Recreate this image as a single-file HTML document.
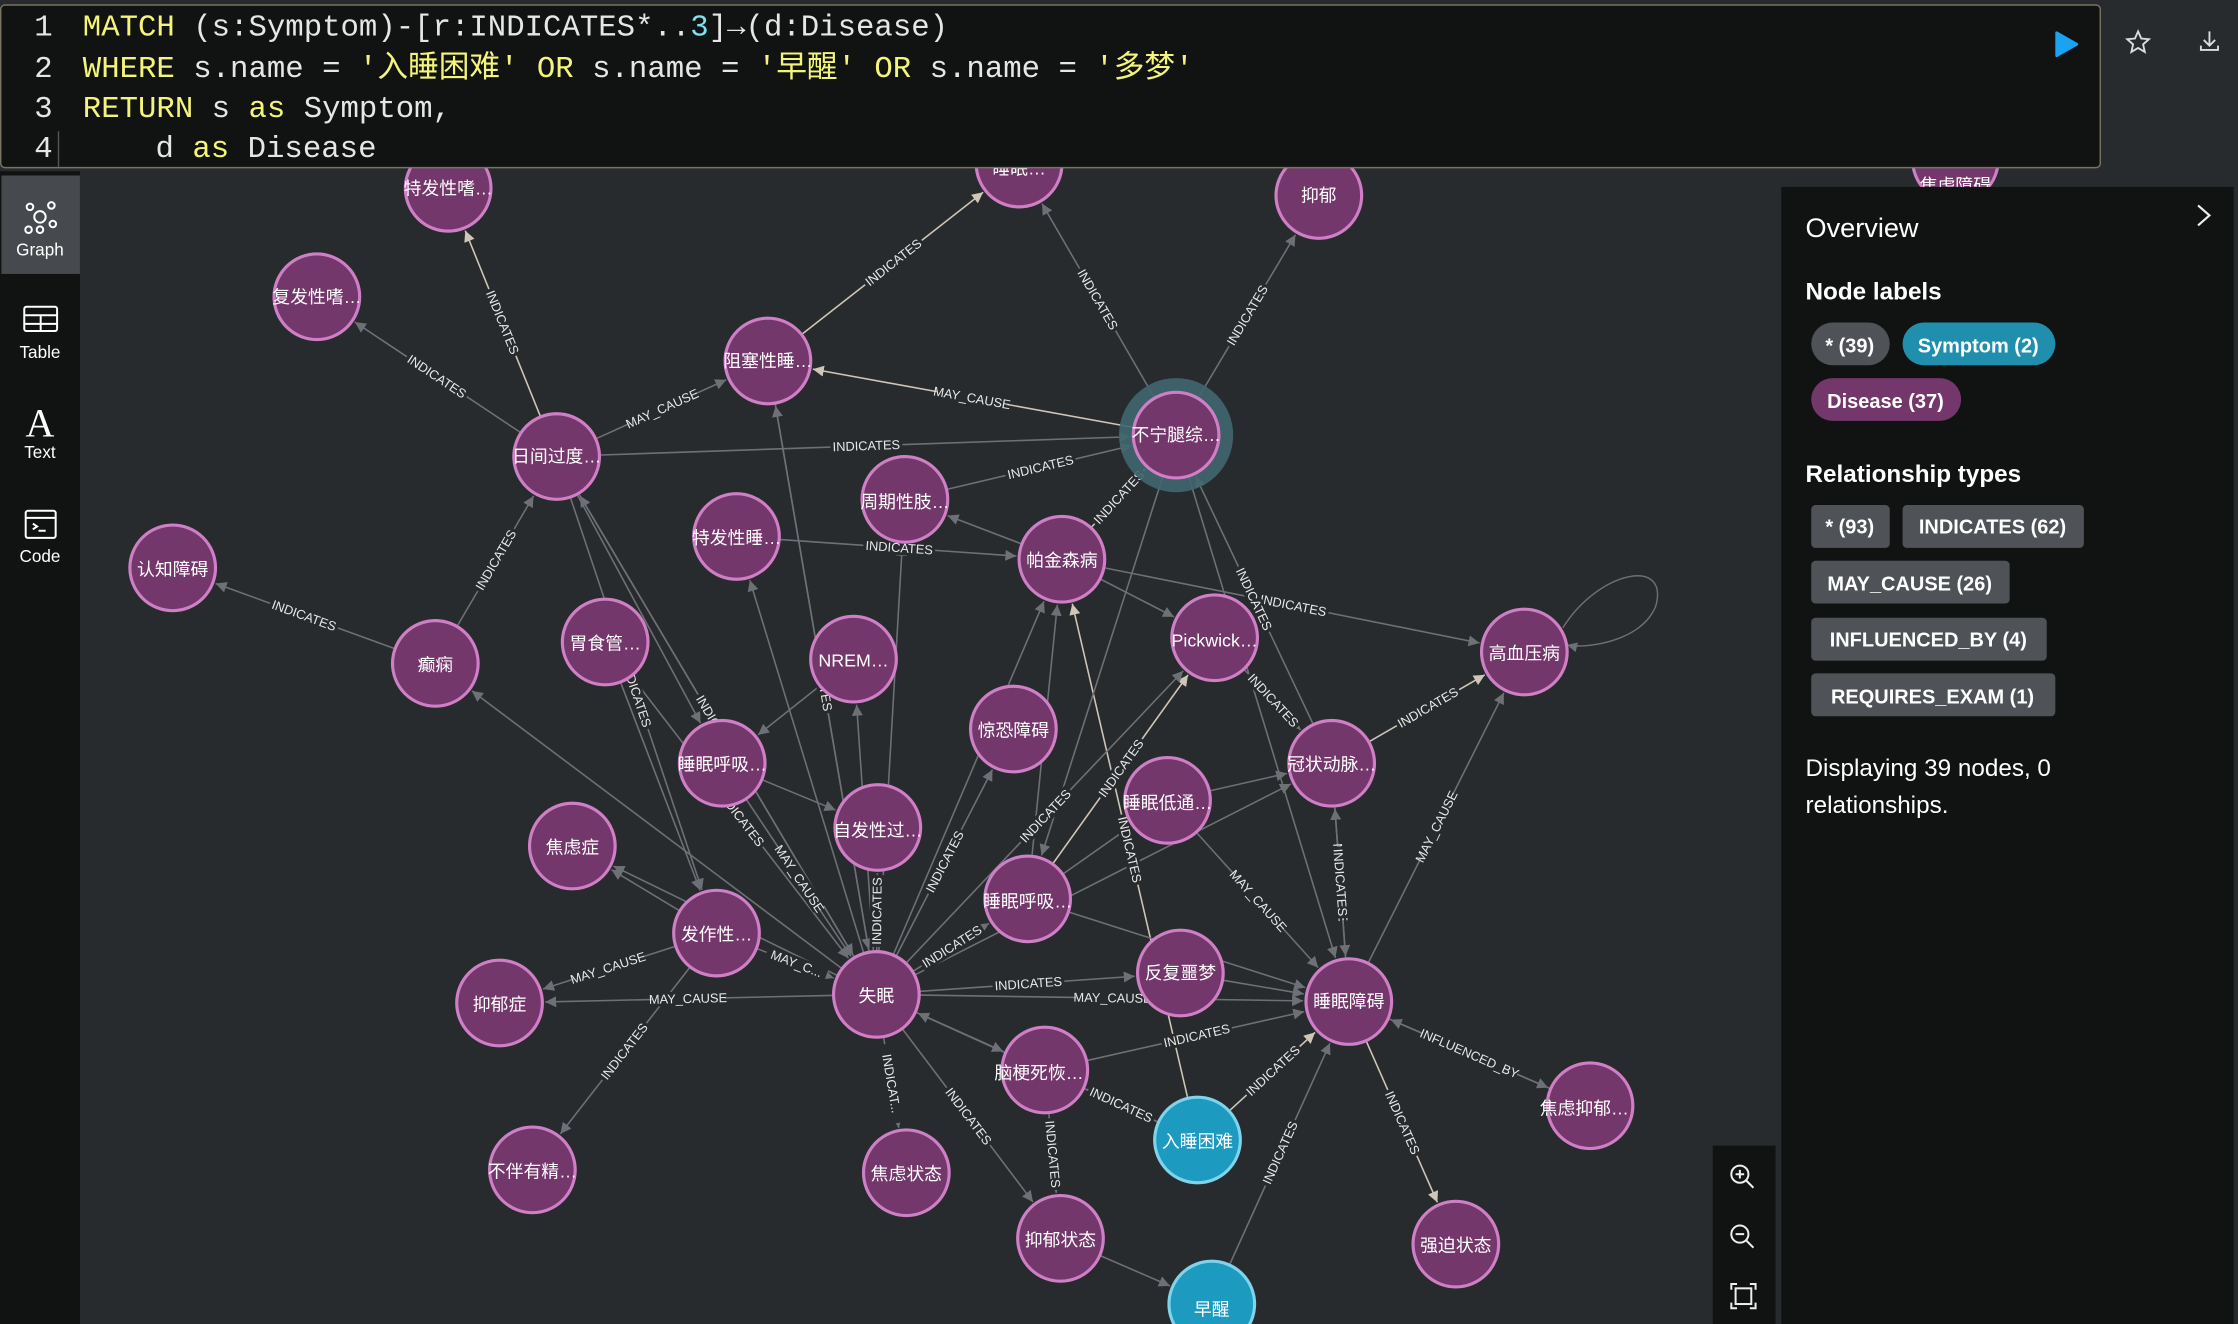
<!DOCTYPE html>
<html><head><meta charset="utf-8"><style>
html,body{margin:0;padding:0;background:#282b2d;overflow:hidden}
svg{display:block}
.n circle{fill:#74376b;stroke:#cf7fc6;stroke-width:2.2}
.n.s circle{fill:#1c9ac0;stroke:#7fd3ea}
.n text{fill:#fff;font-family:"Liberation Sans","Noto Sans CJK SC",sans-serif;font-size:12.5px;text-anchor:middle;dominant-baseline:central}
.el{fill:#e8e8e8;font-family:"Liberation Sans",sans-serif;font-size:9px;text-anchor:middle}
.code{font-family:"Liberation Mono","Noto Sans CJK SC",monospace;font-size:21.5px}
.ui{font-family:"Liberation Sans","Noto Sans CJK SC",sans-serif}
</style></head><body>
<svg id="s" width="2238" height="1324" viewBox="0 0 1568 928" preserveAspectRatio="none" xmlns="http://www.w3.org/2000/svg">
<defs>
<marker id="a" viewBox="0 0 10 10" refX="10" refY="5" markerWidth="7" markerHeight="7" orient="auto"><path d="M0,0L10,5L0,10z" fill="#6d7175"/></marker>
<marker id="b" viewBox="0 0 10 10" refX="10" refY="5" markerWidth="7" markerHeight="7" orient="auto"><path d="M0,0L10,5L0,10z" fill="#cfc6b8"/></marker>
</defs>
<rect width="1568" height="928" fill="#282b2d"/>
<g id="edges"></g>
<g id="labels"></g>
<g id="nodes">
<g class="n"><circle cx="314" cy="132" r="30"/><text x="314" y="132">特发性嗜…</text></g>
<g class="n"><circle cx="222" cy="208" r="30"/><text x="222" y="208">复发性嗜…</text></g>
<g class="n"><circle cx="538" cy="253" r="30"/><text x="538" y="253">阻塞性睡…</text></g>
<g class="n"><circle cx="714" cy="115" r="30"/><text x="714" y="118">睡眠…</text></g>
<g class="n"><circle cx="924" cy="137" r="30"/><text x="924" y="137">抑郁</text></g>
<g class="n"><circle cx="1370" cy="112" r="30"/><text x="1370" y="130">焦虑障碍</text></g>
<circle cx="824" cy="305" r="40" fill="#3f6670" opacity="0.9"/>
<g class="n"><circle cx="824" cy="305" r="30"/><text x="824" y="305">不宁腿综…</text></g>
<g class="n"><circle cx="390" cy="320" r="30"/><text x="390" y="320">日间过度…</text></g>
<g class="n"><circle cx="634" cy="350" r="30"/><text x="634" y="352">周期性肢…</text></g>
<g class="n"><circle cx="516" cy="376" r="30"/><text x="516" y="377">特发性睡…</text></g>
<g class="n"><circle cx="744" cy="392" r="30"/><text x="744" y="393">帕金森病</text></g>
<g class="n"><circle cx="121" cy="398" r="30"/><text x="121" y="399">认知障碍</text></g>
<g class="n"><circle cx="305" cy="465" r="30"/><text x="305" y="466">癫痫</text></g>
<g class="n"><circle cx="424" cy="450" r="30"/><text x="424" y="451">胃食管…</text></g>
<g class="n"><circle cx="598" cy="462" r="30"/><text x="598" y="463">NREM…</text></g>
<g class="n"><circle cx="851" cy="447" r="30"/><text x="851" y="449">Pickwick…</text></g>
<g class="n"><circle cx="1068" cy="457" r="30"/><text x="1068" y="458">高血压病</text></g>
<g class="n"><circle cx="710" cy="511" r="30"/><text x="710" y="512">惊恐障碍</text></g>
<g class="n"><circle cx="506" cy="535" r="30"/><text x="506" y="536">睡眠呼吸…</text></g>
<g class="n"><circle cx="933" cy="535" r="30"/><text x="933" y="536">冠状动脉…</text></g>
<g class="n"><circle cx="818" cy="561" r="30"/><text x="818" y="563">睡眠低通…</text></g>
<g class="n"><circle cx="615" cy="580" r="30"/><text x="615" y="582">自发性过…</text></g>
<g class="n"><circle cx="401" cy="593" r="30"/><text x="401" y="594">焦虑症</text></g>
<g class="n"><circle cx="720" cy="630" r="30"/><text x="720" y="632">睡眠呼吸…</text></g>
<g class="n"><circle cx="502" cy="654" r="30"/><text x="502" y="655">发作性…</text></g>
<g class="n"><circle cx="827" cy="682" r="30"/><text x="827" y="682">反复噩梦</text></g>
<g class="n"><circle cx="614" cy="697" r="30"/><text x="614" y="698">失眠</text></g>
<g class="n"><circle cx="945" cy="702" r="30"/><text x="945" y="702">睡眠障碍</text></g>
<g class="n"><circle cx="350" cy="703" r="30"/><text x="350" y="704">抑郁症</text></g>
<g class="n"><circle cx="732" cy="750" r="30"/><text x="728" y="752">脑梗死恢…</text></g>
<g class="n s"><circle cx="839" cy="799" r="30"/><text x="839" y="800">入睡困难</text></g>
<g class="n"><circle cx="1114" cy="775" r="30"/><text x="1110" y="777">焦虑抑郁…</text></g>
<g class="n"><circle cx="373" cy="820" r="30"/><text x="373" y="821">不伴有精…</text></g>
<g class="n"><circle cx="635" cy="822" r="30"/><text x="635" y="823">焦虑状态</text></g>
<g class="n"><circle cx="743" cy="868" r="30"/><text x="743" y="869">抑郁状态</text></g>
<g class="n"><circle cx="1020" cy="872" r="30"/><text x="1020" y="873">强迫状态</text></g>
<g class="n s"><circle cx="849" cy="914" r="30"/><text x="849" y="918">早醒</text></g>
</g>
<!-- editor -->
<rect x="0" y="0" width="1568" height="3.5" fill="#282b2d"/>
<rect x="0.5" y="3.5" width="1471" height="114" rx="3" fill="#111313" stroke="#7a7262" stroke-width="1"/>
<g class="code" fill="#e6e6e6">
<text x="24" y="25">1</text><text x="24" y="54">2</text><text x="24" y="82">3</text><text x="24" y="110">4</text>
<text x="58" y="25"><tspan fill="#f4f47a">MATCH</tspan> (s:Symptom)-[r:INDICATES*..<tspan fill="#7ee0f0">3</tspan>]→(d:Disease)</text>
<text x="58" y="54"><tspan fill="#f4f47a">WHERE</tspan> s.name = <tspan fill="#f4f47a">'入睡困难'</tspan> <tspan fill="#f4f47a">OR</tspan> s.name = <tspan fill="#f4f47a">'早醒'</tspan> <tspan fill="#f4f47a">OR</tspan> s.name = <tspan fill="#f4f47a">'多梦'</tspan></text>
<text x="58" y="82"><tspan fill="#f4f47a">RETURN</tspan> s <tspan fill="#f4f47a">as</tspan> Symptom,</text>
<text x="109" y="110">d <tspan fill="#f4f47a">as</tspan> Disease</text>
</g>
<line x1="41" y1="92" x2="41" y2="117" stroke="#555"/>
<path d="M1441,23 L1455,31 L1441,39 z" fill="#1aa3f2" stroke="#1aa3f2" stroke-width="2" stroke-linejoin="round"/>
<path d="M1498,22 l2.2,5 5.4,.5 -4.1,3.6 1.2,5.3 -4.7,-2.8 -4.7,2.8 1.2,-5.3 -4.1,-3.6 5.4,-.5z" fill="none" stroke="#ddd" stroke-width="1.3"/>
<path d="M1548,22 v10 M1544,28 l4,4 4,-4 M1542,32 v3 h12 v-3" fill="none" stroke="#ddd" stroke-width="1.3"/>
<!-- sidebar -->
<rect x="0" y="120" width="56" height="808" fill="#111313"/>
<rect x="1" y="123" width="55" height="69" fill="#464a4e"/>
<g fill="none" stroke="#fff" stroke-width="1.4">
<circle cx="28" cy="152" r="4"/><circle cx="21" cy="145" r="2.3"/><circle cx="36" cy="144" r="2.3"/><circle cx="37" cy="157" r="2.3"/><circle cx="20" cy="161" r="2.3"/><circle cx="28" cy="161" r="2.3"/>
<rect x="17" y="215" width="23" height="17" rx="1.5"/><line x1="17" y1="221" x2="40" y2="221"/><line x1="17" y1="227" x2="40" y2="227"/><line x1="28.5" y1="221" x2="28.5" y2="232"/>
<rect x="18" y="358" width="21" height="19" rx="1.5"/><line x1="18" y1="363" x2="39" y2="363"/><path d="M23,367 l3,2 -3,2 M27,372 h5"/>
</g>
<text x="28" y="306" fill="#fff" font-family="Liberation Serif,serif" font-size="28" text-anchor="middle">A</text>
<g class="ui" fill="#fff" font-size="12" text-anchor="middle">
<text x="28" y="179">Graph</text><text x="28" y="251">Table</text><text x="28" y="321">Text</text><text x="28" y="394">Code</text>
</g>
<!-- zoom controls -->
<rect x="1200" y="803" width="44" height="125" fill="#111313"/>
<g fill="none" stroke="#eee" stroke-width="1.4">
<circle cx="1219" cy="823" r="6"/><path d="M1223.5,827.5 l5,5 M1216,823 h6 M1219,820 v6"/>
<circle cx="1219" cy="865" r="6"/><path d="M1223.5,869.5 l5,5 M1216,865 h6"/>
<rect x="1216" y="903" width="11" height="11"/><path d="M1213,904 v-4 h4 M1226,900 h4 v4 M1230,913 v4 h-4 M1217,917 h-4 v-4"/>
</g>
<!-- right panel -->
<rect x="1248" y="131" width="317" height="797" fill="#111313"/>
<path d="M1540,144 l8,7 -8,7" fill="none" stroke="#eee" stroke-width="1.5"/>
<g class="ui">
<text x="1265" y="166" fill="#fff" font-size="19">Overview</text>
<text x="1265" y="210" fill="#fff" font-size="17" font-weight="bold">Node labels</text>
<rect x="1269" y="226" width="55" height="30" rx="15" fill="#4f5357"/><text x="1296" y="247" fill="#fff" font-size="14" font-weight="bold" text-anchor="middle">* (39)</text>
<rect x="1333" y="226" width="107" height="30" rx="15" fill="#1f8fad"/><text x="1386" y="247" fill="#fff" font-size="14" font-weight="bold" text-anchor="middle">Symptom (2)</text>
<rect x="1269" y="265" width="105" height="30" rx="15" fill="#74376b"/><text x="1321" y="286" fill="#fff" font-size="14" font-weight="bold" text-anchor="middle">Disease (37)</text>
<text x="1265" y="338" fill="#fff" font-size="17" font-weight="bold">Relationship types</text>
<rect x="1269" y="354" width="55" height="30" rx="3" fill="#4f5357"/><text x="1296" y="374" fill="#fff" font-size="14" font-weight="bold" text-anchor="middle">* (93)</text>
<rect x="1333" y="354" width="127" height="30" rx="3" fill="#4f5357"/><text x="1396" y="374" fill="#fff" font-size="14" font-weight="bold" text-anchor="middle">INDICATES (62)</text>
<rect x="1269" y="393" width="139" height="30" rx="3" fill="#4f5357"/><text x="1338" y="414" fill="#fff" font-size="14" font-weight="bold" text-anchor="middle">MAY_CAUSE (26)</text>
<rect x="1269" y="433" width="165" height="30" rx="3" fill="#4f5357"/><text x="1351" y="453" fill="#fff" font-size="14" font-weight="bold" text-anchor="middle">INFLUENCED_BY (4)</text>
<rect x="1269" y="472" width="171" height="30" rx="3" fill="#4f5357"/><text x="1354" y="493" fill="#fff" font-size="14" font-weight="bold" text-anchor="middle">REQUIRES_EXAM (1)</text>
<text x="1265" y="544" fill="#fff" font-size="17">Displaying 39 nodes, 0</text>
<text x="1265" y="570" fill="#fff" font-size="17">relationships.</text>
</g>
</svg>
<script>
var P={tf:[314,132],ff:[222,208],zs:[538,253],tp:[714,115],yy:[924,137],bn:[824,305],rj:[390,320],zq:[634,350],ts:[516,376],pj:[744,392],rz:[121,398],dx:[305,465],wg:[424,450],nr:[598,462],pk:[851,447],gx:[1068,457],jk:[710,511],h1:[506,535],gz:[933,535],dt:[818,561],zf:[615,580],jl:[401,593],h2:[720,630],fz:[502,654],fm:[827,682],sm:[614,697],sz:[945,702],yz:[350,703],ng:[732,750],rs:[839,799],jy:[1114,775],bb:[373,820],js:[635,822],ys:[743,868],qp:[1020,872],zx:[849,914]};
var E=[
['rj','tf','b','INDICATES'],['rj','ff',0,'INDICATES'],['rj','zs',0,'MAY_CAUSE'],['zs','tp','b','INDICATES'],['bn','zs','b','MAY_CAUSE'],['bn','tp',0,'INDICATES'],['bn','yy',0,'INDICATES'],
['pj','bn','b','INDICATES'],['zq','bn',0,'INDICATES'],['rj','bn',0,'INDICATES'],['ts','pj',0,'INDICATES'],['pj','zq',0,''],['dx','rz',0,'INDICATES'],['dx','rj',0,'INDICATES'],
['pj','gx',0,'INDICATES'],['pj','pk',0,''],['gz','gx','b','INDICATES'],['sz','gx',0,'MAY_CAUSE'],['sz','gz',0,'MAY_CAUSE'],['gz','sz',0,'INDICATES'],['sz','jy',0,'INDICATES'],['sz','qp','b','INDICATES'],
['rs','sz','b','INDICATES'],['rs','sm',0,''],['rs','pj','b','INDICATES'],['zx','sz',0,'INDICATES'],['ys','zx',0,''],['h2','pk','b','INDICATES'],['dt','gz',0,''],['dt','sz',0,'MAY_CAUSE'],
['fz','yz',0,'MAY_CAUSE'],['fz','jl',0,''],['fm','sz',0,''],['bn','sz',0,''],['gz','bn',0,'INDICATES'],['h2','pj',0,''],['pk','gz',0,'INDICATES'],
['sm','zs',0,''],['sm','rj',0,''],['sm','ts',0,''],['sm','zq',0,''],['sm','nr','a',''],['sm','pj',0,''],['wg','sm',0,'INDICATES'],['h1','sm',0,'MAY_CAUSE'],['sm','zf',0,'INDICATES'],['sm','jk',0,'INDICATES'],
['sm','h2',0,'INDICATES'],['fz','sm',0,'MAY_C...'],['sm','fm',0,'INDICATES'],['sm','sz',0,'MAY_CAUSE'],['sm','yz',0,'MAY_CAUSE'],['sm','js',0,'INDICAT...'],['sm','ys',0,'INDICATES'],['sm','ng',0,''],
['fz','bb',0,'INDICATES'],['sm','jl',0,'INDICATES'],['sm','pk',0,'INDICATES'],['sm','dx',0,''],['rs','ng',0,'INDICATES'],['ng','sz',0,'INDICATES'],['h2','dt',0,''],['rj','sm',0,'INDICATES'],['wg','fz',0,''],['rj','h1',0,''],
['ng','ys',0,'INDICATES'],['h1','zf',0,''],['nr','h1',0,''],['sm','gz',0,''],['rj','fz',0,'INDICATES'],['zs','sm',0,'INDICATES'],['bn','h2',0,''],['h2','sz',0,'INDICATES'],['jy','sz',0,'INFLUENCED_BY']
];
var g=document.getElementById('edges'),L=document.getElementById('labels'),ns='http://www.w3.org/2000/svg';
E.forEach(function(e){var a=P[e[0]],b=P[e[1]],dx=b[0]-a[0],dy=b[1]-a[1],d=Math.sqrt(dx*dx+dy*dy),ux=dx/d,uy=dy/d;
var l=document.createElementNS(ns,'line');l.setAttribute('x1',a[0]+ux*31);l.setAttribute('y1',a[1]+uy*31);l.setAttribute('x2',b[0]-ux*32);l.setAttribute('y2',b[1]-uy*32);
var c=e[2]=='b'?'#cfc6b8':'#6d7175';l.setAttribute('stroke',c);l.setAttribute('stroke-width','1.1');l.setAttribute('marker-end','url(#'+(e[2]=='b'?'b':'a')+')');g.appendChild(l);
if(e[3]){var t=document.createElementNS(ns,'text'),mx=(a[0]+b[0])/2,my=(a[1]+b[1])/2,ang=Math.atan2(dy,dx)*180/Math.PI;if(ang>90)ang-=180;if(ang<-90)ang+=180;
t.setAttribute('x',mx);t.setAttribute('y',my+3);t.setAttribute('class','el');t.setAttribute('transform','rotate('+ang+' '+mx+' '+my+')');t.textContent=e[3];
var r=document.createElementNS(ns,'rect');var w=e[3].length*5.6;r.setAttribute('x',mx-w/2);r.setAttribute('y',my-5);r.setAttribute('width',w);r.setAttribute('height',10);r.setAttribute('fill','#282b2d');r.setAttribute('transform','rotate('+ang+' '+mx+' '+my+')');L.appendChild(r);L.appendChild(t);}});
var lp=document.createElementNS(ns,'path');lp.setAttribute('d','M1095,440 C1120,400 1170,390 1160,425 C1150,450 1110,455 1098,452');lp.setAttribute('fill','none');lp.setAttribute('stroke','#6d7175');lp.setAttribute('marker-end','url(#a)');g.appendChild(lp);
</script>
</body></html>
